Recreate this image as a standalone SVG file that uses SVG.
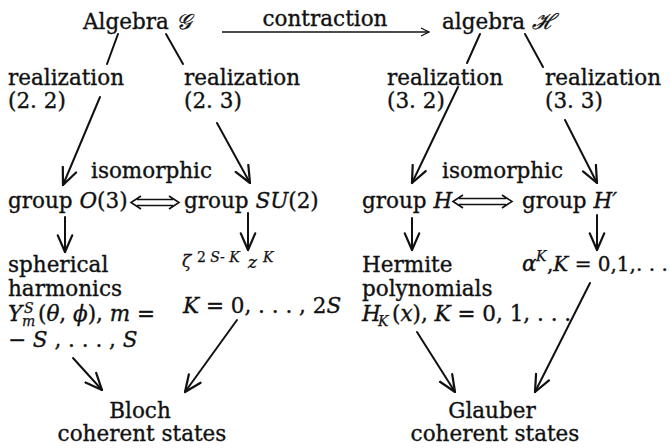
<svg xmlns="http://www.w3.org/2000/svg" width="670" height="448" viewBox="0 0 670 448">
<style>
text{font-family:"DejaVu Serif","Liberation Serif",serif;font-size:21.5px;fill:#111;stroke:#111;stroke-width:0.35}
.i{font-style:italic}
.s{font-size:14px;stroke-width:0.25}
.c{text-anchor:middle}
.ln{stroke:#111;stroke-width:2;fill:none;stroke-linecap:round}
.thin{stroke:#111;stroke-width:1.3;fill:none}
</style>
<defs>
<marker id="ah" markerUnits="userSpaceOnUse" markerWidth="20" markerHeight="20" viewBox="-16 -8 18 16" refX="0" refY="0" orient="auto">
<path d="M-15,-6.5 L0,0 L-15,6.5" fill="none" stroke="#111" stroke-width="2" stroke-linejoin="round" stroke-linecap="round"/>
</marker>
<marker id="sh" markerUnits="userSpaceOnUse" markerWidth="14" markerHeight="12" viewBox="-10 -6 12 12" refX="0" refY="0" orient="auto">
<path d="M-8,-4 L0,0 L-8,4" fill="none" stroke="#111" stroke-width="1.3"/>
</marker>
</defs>

<g id="algebraG"><text x="83" y="29">Algebra <tspan class="i">𝒢</tspan></text></g>
<g id="algebraK"><text x="442" y="29">algebra <tspan class="i">ℋ</tspan></text></g>
<g id="real22"><text x="8" y="85">realization</text><text x="8" y="108">(2. 2)</text></g>
<g id="real23"><text x="184" y="85">realization</text><text x="184" y="108">(2. 3)</text></g>
<g id="real32"><text x="387" y="85">realization</text><text x="387" y="108">(3. 2)</text></g>
<g id="real33"><text x="545" y="85">realization</text><text x="545" y="108">(3. 3)</text></g>
<g id="groupO3"><text x="8" y="208">group <tspan class="i">O</tspan>(3)</text></g>
<g id="groupSU2"><text x="184" y="208">group <tspan class="i">SU</tspan>(2)</text></g>
<g id="groupH"><text x="362" y="208">group <tspan class="i">H</tspan></text></g>
<g id="groupHp"><text x="522" y="208">group <tspan class="i">H′</tspan></text></g>
<g id="spherical">
<text x="8" y="272">spherical</text>
<text x="8" y="296">harmonics</text>
<text x="8" y="321"><tspan class="i">Y</tspan></text>
<text x="24" y="313" class="s i">S</text>
<text x="22" y="326" class="s i">m</text>
<text x="38" y="321">(<tspan class="i">θ</tspan>, <tspan class="i">ϕ</tspan>), <tspan class="i">m</tspan> =</text>
<text x="8" y="347">− <tspan class="i">S</tspan> , . . . , <tspan class="i">S</tspan></text>
</g>
<g id="zeta">
<text x="182" y="267" class="i" style="font-size:17px;stroke-width:0.3">ζ</text>
<text x="197" y="262" class="s">2 <tspan class="i">S</tspan>- <tspan class="i">K</tspan></text>
<text x="248" y="268" class="i" style="font-size:17px;stroke-width:0.3">z</text>
<text x="263" y="262" class="s i">K</text>
<text x="183" y="313"><tspan class="i">K</tspan> = 0, . . . , 2<tspan class="i">S</tspan></text>
</g>
<g id="hermite">
<text x="362" y="272">Hermite</text>
<text x="362" y="296">polynomials</text>
<text x="362" y="321"><tspan class="i">H</tspan></text>
<text x="378" y="326" class="s i">K</text>
<text x="392" y="321">(<tspan class="i">x</tspan>), <tspan class="i">K</tspan> = 0, 1, . . .</text>
</g>
<g id="alpha">
<text x="522" y="271"><tspan class="i">α</tspan></text>
<text x="536" y="261" class="s i">K</text>
<text x="547" y="271" style="font-size:20px">,<tspan class="i">K</tspan> = 0,1,. . .</text>
</g>
<g id="bloch"><text x="140" y="418" class="c">Bloch</text><text x="142" y="441" class="c">coherent states</text></g>
<g id="glauber"><text x="492" y="418" class="c">Glauber</text><text x="495" y="441" class="c">coherent states</text></g>
<g id="iso">
<text x="91" y="178">isomorphic</text>
<text x="442" y="178">isomorphic</text>
</g>
<g id="contractionLabel"><text x="325" y="26" class="c">contraction</text></g>

<g id="connectors">
<line class="thin" x1="222" y1="32" x2="429" y2="32" marker-end="url(#sh)"/>
<line class="ln" x1="118" y1="34" x2="107" y2="64"/>
<line class="ln" x1="166" y1="34" x2="183" y2="64"/>
<line class="ln" x1="480" y1="34" x2="467" y2="63"/>
<line class="ln" x1="525" y1="34" x2="543" y2="67"/>
<line class="ln" x1="100" y1="97" x2="63" y2="185" marker-end="url(#ah)"/>
<line class="ln" x1="217" y1="123" x2="250" y2="183" marker-end="url(#ah)"/>
<line class="ln" x1="458" y1="87" x2="412" y2="183" marker-end="url(#ah)"/>
<line class="ln" x1="565" y1="120" x2="597" y2="183" marker-end="url(#ah)"/>
<line class="ln" x1="65" y1="217" x2="65" y2="252" marker-end="url(#ah)"/>
<line class="ln" x1="248" y1="213" x2="248" y2="250" marker-end="url(#ah)"/>
<line class="ln" x1="412" y1="218" x2="412" y2="250" marker-end="url(#ah)"/>
<line class="ln" x1="597" y1="215" x2="597" y2="250" marker-end="url(#ah)"/>
<line class="ln" x1="73" y1="358" x2="102" y2="390" marker-end="url(#ah)"/>
<line class="ln" x1="237" y1="320" x2="185" y2="392" marker-end="url(#ah)"/>
<line class="ln" x1="417" y1="332" x2="455" y2="392" marker-end="url(#ah)"/>
<line class="ln" x1="590" y1="283" x2="535" y2="392" marker-end="url(#ah)"/>
<path class="thin" style="stroke-width:1.6" d="M141,196 L131,202.5 L141,209 M137,199.5 H173 M137,205.5 H173 M169,196 L179,202.5 L169,209"/>
<path class="thin" style="stroke-width:1.6" d="M463,195 L453,201.5 L463,208 M459,198.5 H506 M459,204.5 H506 M502,195 L512,201.5 L502,208"/>
</g>
</svg>
